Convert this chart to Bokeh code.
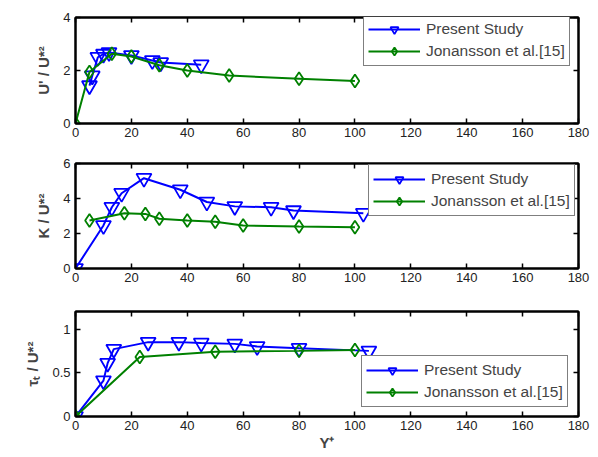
from bokeh.plotting import figure
from bokeh.models import ColumnDataSource, Range1d, LinearAxis, Legend, LegendItem, FixedTicker
from bokeh.layouts import column
from bokeh.embed import file_html
from bokeh.resources import INLINE

# ---- data ----
x_ticks = [0, 20, 40, 60, 80, 100, 120, 140, 160, 180]

u_present_x = [5, 6, 8, 10, 12, 20, 27.5, 30.5, 45]
u_present_y = [1.43, 1.8, 2.5, 2.62, 2.68, 2.57, 2.38, 2.3, 2.22]
u_jon_x = [0, 5, 13, 20, 30, 40, 55, 80, 100]
u_jon_y = [0, 1.94, 2.63, 2.53, 2.2, 2.0, 1.81, 1.69, 1.6]

k_present_x = [0, 10, 13, 16.5, 24.5, 37.5, 47, 57, 70, 78, 103]
k_present_y = [0, 2.46, 3.5, 4.3, 5.16, 4.5, 3.8, 3.55, 3.5, 3.31, 3.16]
k_jon_x = [5, 17.5, 25, 30, 40, 50, 60, 80, 100]
k_jon_y = [2.74, 3.16, 3.12, 2.84, 2.74, 2.67, 2.46, 2.4, 2.36]

t_present_x = [0, 10, 11.5, 13.7, 26, 37, 45, 57, 65, 80, 105]
t_present_y = [0, 0.41, 0.61, 0.77, 0.85, 0.85, 0.84, 0.83, 0.8, 0.78, 0.75]
t_jon_x = [0, 23, 50, 80, 100]
t_jon_y = [0, 0.68, 0.74, 0.75, 0.76]

BLUE = "#0000ff"
GREEN = "#008000"
FONT = "Liberation Sans"


def make_panel(px, py, jx, jy, ymax, yticks, ylabel, legend_xy, border_top, frame_h, border_bottom, xlabel=None):
    p = figure(frame_width=503, frame_height=frame_h, output_backend="svg", toolbar_location=None,
               x_range=Range1d(0, 180), y_range=Range1d(0, ymax),
               min_border_left=75, min_border_right=20, min_border_top=border_top,
               min_border_bottom=border_bottom, x_axis_location="below", y_axis_location="left")
    p.xgrid.visible = False
    p.ygrid.visible = False
    p.outline_line_color = "black"
    p.outline_line_width = 2
    p.background_fill_color = "white"
    p.border_fill_color = "white"

    sp = ColumnDataSource(dict(x=px, y=py))
    sj = ColumnDataSource(dict(x=jx, y=jy))
    lp = p.line("x", "y", source=sp, line_color=BLUE, line_width=2)
    mp = p.scatter("x", "y", source=sp, marker="inverted_triangle", size=15, fill_color=None,
                   line_color=BLUE, line_width=1.8)
    lj = p.line("x", "y", source=sj, line_color=GREEN, line_width=2)
    mj = p.scatter("x", "y", source=sj, marker="diamond", size=13, fill_color=None,
                   line_color=GREEN, line_width=1.8)

    for ax in (p.xaxis[0], p.yaxis[0]):
        ax.major_tick_in = 5
        ax.major_tick_out = 0
        ax.minor_tick_line_color = None
        ax.axis_line_width = 2
        ax.major_tick_line_width = 1.5
        ax.major_label_text_font = FONT
        ax.major_label_text_font_size = "13px"
        ax.major_label_text_color = "#222222"
        ax.axis_label_text_font = FONT
        ax.axis_label_text_font_style = "bold"
        ax.axis_label_text_font_size = "15px"
    p.xaxis[0].ticker = FixedTicker(ticks=x_ticks)
    p.yaxis[0].ticker = FixedTicker(ticks=yticks)
    p.yaxis[0].major_label_standoff = 5
    p.xaxis[0].major_label_standoff = 4
    p.yaxis[0].axis_label = ylabel
    p.yaxis[0].axis_label_standoff = 8
    if xlabel:
        p.xaxis[0].axis_label = xlabel
        p.xaxis[0].axis_label_standoff = 1

    # boxed axes with inward ticks on top and right (no labels)
    top = LinearAxis(ticker=FixedTicker(ticks=x_ticks), major_tick_in=5, major_tick_out=0,
                     minor_tick_line_color=None,
                     major_label_overrides={t: "" for t in x_ticks},
                     axis_line_width=2, major_tick_line_width=1.5, major_label_standoff=0)
    right = LinearAxis(ticker=FixedTicker(ticks=yticks), major_tick_in=5, major_tick_out=0,
                       minor_tick_line_color=None,
                       major_label_overrides={t: "" for t in yticks},
                       axis_line_width=2, major_tick_line_width=1.5, major_label_standoff=0)
    p.add_layout(top, "above")
    p.add_layout(right, "right")

    legend = Legend(items=[LegendItem(label="Present Study", renderers=[lp, mp]),
                           LegendItem(label="Jonansson et al.[15]", renderers=[lj, mj])],
                    location=legend_xy, orientation="vertical",
                    label_text_font=FONT, label_text_font_size="15.5px",
                    glyph_width=52, glyph_height=20, label_height=20, label_standoff=6,
                    spacing=2, padding=4, margin=0,
                    border_line_color="black", border_line_width=1.2,
                    background_fill_color="white", background_fill_alpha=1.0)
    p.add_layout(legend, "center")
    return p


p1 = make_panel(u_present_x, u_present_y, u_jon_x, u_jon_y, 4, [0, 2, 4], "U' / U*²",
                (288, 57), 17, 106, 17)
p2 = make_panel(k_present_x, k_present_y, k_jon_x, k_jon_y, 6, [0, 2, 4, 6], "K / U*²",
                (293, 52), 23, 105, 17)
p3 = make_panel(t_present_x, t_present_y, t_jon_x, t_jon_y, 1.2, [0, 0.5, 1], "τₜ / U*²",
                (286, 9), 26, 105, 41, xlabel="Y⁺")

layout = column(p1, p2, p3, spacing=0)
open("out.html", "w").write(file_html(layout, INLINE))
